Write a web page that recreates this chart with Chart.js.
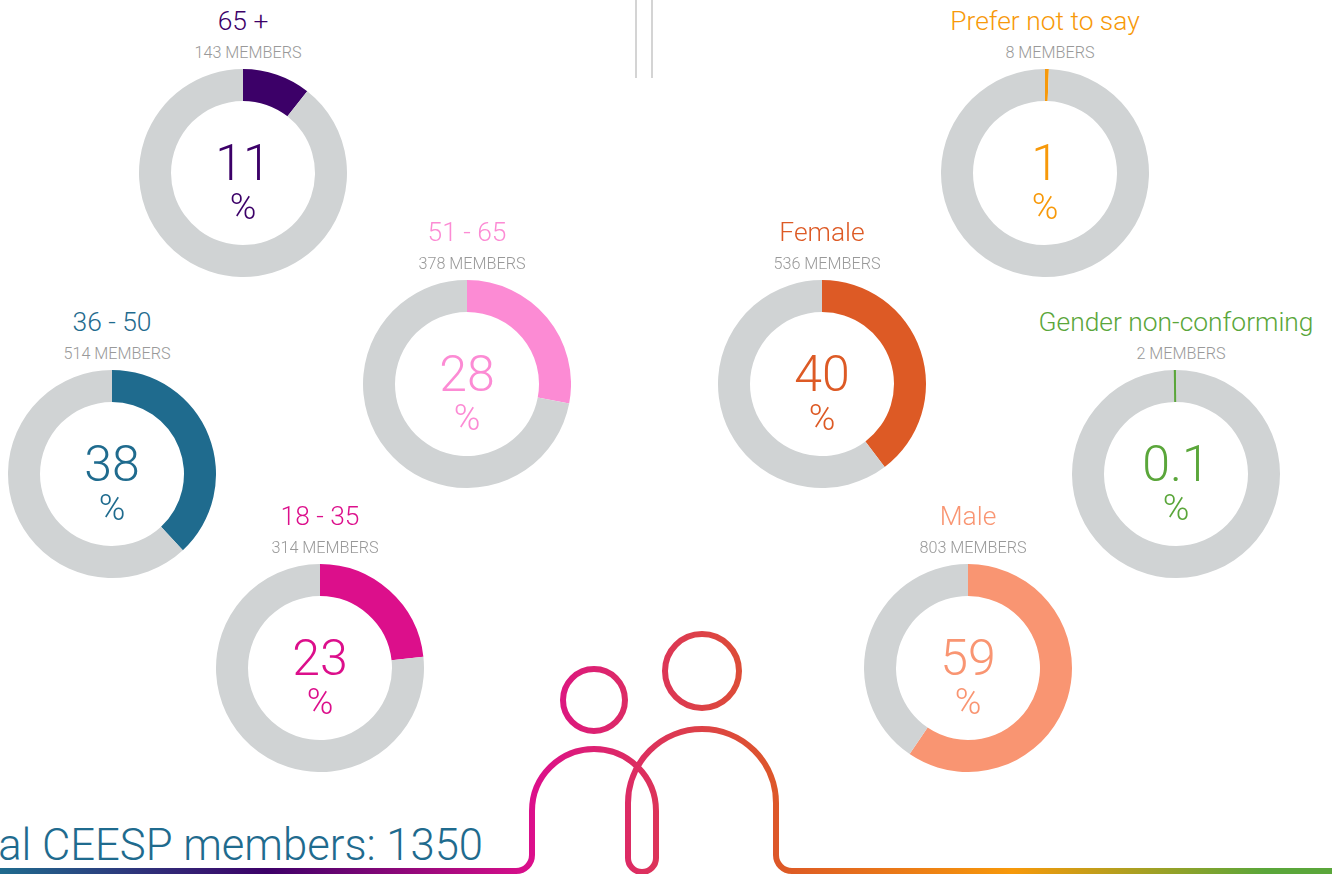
<!DOCTYPE html>
<html>
<head>
<meta charset="utf-8">
<title>CEESP members</title>
<script src="https://cdn.jsdelivr.net/npm/chart.js@4"></script>
<style>
    html, body { margin: 0; padding: 0; background: #fff; overflow: hidden; }
    #page { position: relative; width: 1332px; height: 874px; overflow: hidden; font-family: Roboto, sans-serif; font-weight: 300; }
    #page canvas { position: absolute; }
    #page svg { position: absolute; left: 0; top: 0; }
    .txt { position: absolute; width: 320px; text-align: center; white-space: nowrap; line-height: 1; }
    .title { font-size: 26.4px; }
    .members { font-size: 16.2px; color: #999; }
    .pct { font-size: 50px; }
    .sign { font-size: 36px; }
    #total { position: absolute; right: 849px; top: 824px; font-size: 43.6px; line-height: 1; color: #1f6b8e; white-space: nowrap; }
</style>
</head>
<body>
<div id="page">
    <svg width="1332" height="874" fill="none">
        <defs>
            <linearGradient id="ribbon" gradientUnits="userSpaceOnUse" x1="0" y1="0" x2="1332" y2="0">
                <stop offset="0" stop-color="#1f6b8e"/>
                <stop offset="0.2" stop-color="#3c0068"/>
                <stop offset="0.4" stop-color="#dc0f8b"/>
                <stop offset="0.59" stop-color="#dd5a25"/>
                <stop offset="0.76" stop-color="#f7990a"/>
                <stop offset="0.95" stop-color="#5aa63a"/>
                <stop offset="1" stop-color="#5aa63a"/>
            </linearGradient>
        </defs>
        <rect x="635" y="0" width="2" height="78" fill="#d4d4d4"/>
        <rect x="651" y="0" width="2" height="78" fill="#d4d4d4"/>
        <g stroke="url(#ribbon)" stroke-width="6">
            <circle cx="594" cy="700" r="31"/>
            <circle cx="702" cy="671" r="37"/>
            <path d="M0 871H516A16 16 0 0 0 532 855V811A62 62 0 0 1 656 811V858A14 14 0 0 1 628 858V803A74 74 0 0 1 776 803V855A16 16 0 0 0 792 871H1332"/>
        </g>
    </svg>
    <div id="total">Total CEESP members: 1350</div>
</div>
<script>
const totalMembers = 1350;
const groups = ['65 +', '51 - 65', '36 - 50', '18 - 35', 'Prefer not to say', 'Female', 'Gender non-conforming', 'Male'];
const members = [143, 378, 514, 314, 8, 536, 2, 803];
const percents = ['11', '28', '38', '23', '1', '40', '0.1', '59'];
const colors = ['#3c0068', '#fc8bd4', '#1f6b8e', '#dc0f8b', '#f7990a', '#dd5a25', '#5aa63a', '#f99572'];
const centers = [[243, 173], [467, 384], [112, 474], [320, 668], [1045, 173], [822, 384], [1176, 474], [968, 668]];

const page = document.getElementById('page');

// a slice of 2 members is under a pixel wide, the original shows it as a 2px line
const thinSlice = {
    id: 'thinSlice',
    afterDatasetsDraw(chart) {
        const arc = chart.getDatasetMeta(0).data[0];
        if (arc.endAngle - arc.startAngle > 0.01) return;
        const ctx = chart.ctx;
        const cos = Math.cos(arc.startAngle);
        const sin = Math.sin(arc.startAngle);
        ctx.save();
        ctx.strokeStyle = chart.data.datasets[0].backgroundColor[0];
        ctx.lineWidth = 2;
        ctx.beginPath();
        ctx.moveTo(arc.x + arc.innerRadius * cos, arc.y + arc.innerRadius * sin);
        ctx.lineTo(arc.x + arc.outerRadius * cos, arc.y + arc.outerRadius * sin);
        ctx.stroke();
        ctx.restore();
    }
};

function addText(cls, text, cx, top, color) {
    const div = document.createElement('div');
    div.className = 'txt ' + cls;
    div.textContent = text;
    div.style.left = (cx - 160) + 'px';
    div.style.top = top + 'px';
    if (color) div.style.color = color;
    page.appendChild(div);
}

groups.forEach(function (group, i) {
    const cx = centers[i][0];
    const cy = centers[i][1];
    const canvas = document.createElement('canvas');
    canvas.style.left = (cx - 104) + 'px';
    canvas.style.top = (cy - 104) + 'px';
    page.appendChild(canvas);
    canvas.width = 208;
    canvas.height = 208;
    new Chart(canvas.getContext('2d'), {
        type: 'doughnut',
        data: {
            labels: [group, 'Other'],
            datasets: [{
                data: [members[i], totalMembers - members[i]],
                backgroundColor: [colors[i], '#d0d3d4'],
                borderWidth: 0
            }]
        },
        options: {
            responsive: false,
            animation: false,
            cutout: 72,
            rotation: members[i] < 5 ? -0.65 : 0,
            plugins: {
                legend: { display: false },
                tooltip: { enabled: false }
            }
        },
        plugins: [thinSlice]
    });
    addText('title', group, cx, cy - 165, colors[i]);
    addText('members', members[i] + ' MEMBERS', cx + 5, cy - 128);
    addText('pct', percents[i], cx, cy - 35, colors[i]);
    addText('sign', '%', cx, cy + 16, colors[i]);
});
</script>
</body>
</html>
